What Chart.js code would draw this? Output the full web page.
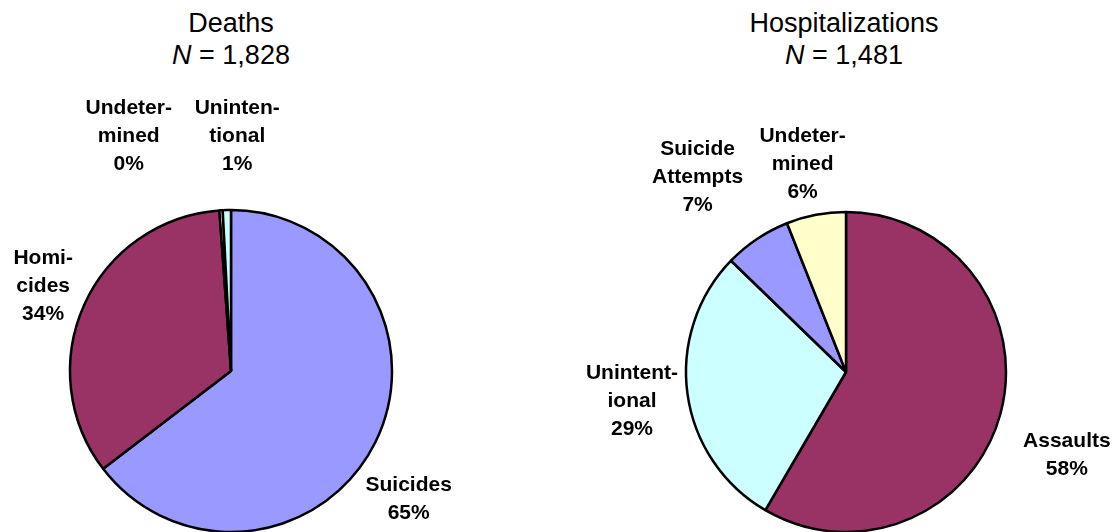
<!DOCTYPE html>
<html>
<head>
<meta charset="utf-8">
<script src="https://cdn.jsdelivr.net/npm/chart.js@4/dist/chart.umd.min.js"></script>
<style>
  html, body { margin: 0; padding: 0; background: #fff; }
  #wrap { position: relative; width: 1119px; height: 532px; overflow: hidden; background: #fff; }
  canvas { position: absolute; top: 0; }
  .title { position: absolute; top: 7px; width: 400px; text-align: center;
           font-family: "Liberation Sans", Arial, sans-serif; font-size: 27px; line-height: 32px; color: #000; }
</style>
</head>
<body>
<div id="wrap">
  <div class="title" style="left:31px;">Deaths<br><i>N</i> = 1,828</div>
  <div class="title" style="left:644px;">Hospitalizations<br><i>N</i> = 1,481</div>
  <canvas id="deaths" width="560" height="532" style="left:0px;"></canvas>
  <canvas id="hosp" width="559" height="532" style="left:560px;"></canvas>
</div>
<script>
// ---- data ----
const deathCategories = ['Suicides', 'Homicides', 'Undetermined', 'Unintentional'];
const deathLabels = ['Suicides', 'Homi-\ncides', 'Undeter-\nmined', 'Uninten-\ntional'];
const deathCounts = [1181, 626, 6, 15];

const hospCategories = ['Assaults', 'Unintentional', 'Suicide Attempts', 'Undetermined'];
const hospLabels = ['Assaults', 'Unintent-\nional', 'Suicide\nAttempts', 'Undeter-\nmined'];
const hospCounts = [865, 427, 100, 89];

// ---- styling ----
const categoryColors = {
  'Suicides': '#9999FF', 'Suicide Attempts': '#9999FF',
  'Homicides': '#993366', 'Assaults': '#993366',
  'Undetermined': '#FFFFCC',
  'Unintentional': '#CCFFFF'
};
// label placement: [angle shift in degrees from slice middle, distance from centre in px]
const deathLabelPlacement = [[9.5, 219], [0, 206], [-20, 256], [3, 235]];
const hospLabelPlacement = [[5.5, 236], [0, 216], [-3.5, 245], [-1, 212]];

const sliceLabels = {
  id: 'sliceLabels',
  afterDatasetsDraw(chart, args, opts) {
    const ctx = chart.ctx;
    const meta = chart.getDatasetMeta(0);
    const data = chart.data.datasets[0].data;
    const total = data.reduce((a, b) => a + b, 0);
    ctx.save();
    ctx.font = 'bold 21px "Liberation Sans", Arial, sans-serif';
    ctx.fillStyle = '#000';
    ctx.textAlign = 'center';
    ctx.textBaseline = 'middle';
    meta.data.forEach((arc, i) => {
      const p = arc.getProps(['x', 'y', 'startAngle', 'endAngle'], true);
      const [shift, dist] = opts.placement[i];
      const a = (p.startAngle + p.endAngle) / 2 + shift * Math.PI / 180;
      const cx = p.x + Math.cos(a) * dist;
      const cy = p.y + Math.sin(a) * dist;
      const lines = chart.data.labels[i].split('\n').concat([Math.round(data[i] / total * 100) + '%']);
      lines.forEach((t, j) => ctx.fillText(t, cx, cy + (j - (lines.length - 1) / 2) * opts.lineHeight));
    });
    ctx.restore();
  }
};

function makePie(id, labels, cats, counts, radius, padding, placement) {
  return new Chart(document.getElementById(id), {
    type: 'pie',
    data: {
      labels: labels,
      datasets: [{
        data: counts,
        backgroundColor: cats.map(c => categoryColors[c]),
        borderColor: '#000000',
        borderWidth: 2.5,
        radius: radius
      }]
    },
    options: {
      responsive: false,
      animation: false,
      devicePixelRatio: 1,
      layout: { padding: padding },
      plugins: {
        legend: { display: false },
        tooltip: { enabled: false },
        title: { display: false },
        sliceLabels: { placement: placement, lineHeight: 28 }
      }
    },
    plugins: [sliceLabels]
  });
}

makePie('deaths', deathLabels, deathCategories, deathCounts, 161,
        { left: 69, right: 167, top: 220, bottom: 10 }, deathLabelPlacement);
makePie('hosp', hospLabels, hospCategories, hospCounts, 160,
        { left: 124, right: 111, top: 221, bottom: 9 }, hospLabelPlacement);
</script>
</body>
</html>
